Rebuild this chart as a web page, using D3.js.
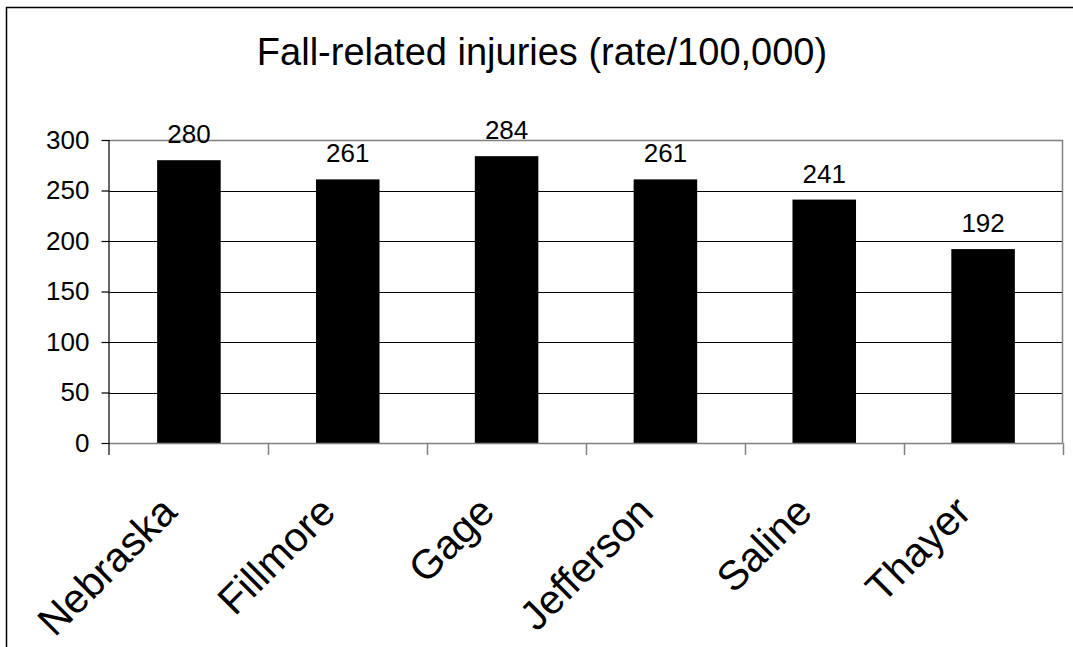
<!DOCTYPE html>
<html>
<head>
<meta charset="utf-8">
<script src="https://cdn.jsdelivr.net/npm/d3@7"></script>
<style>
html, body { margin: 0; background: #fff; overflow: hidden; }
svg { display: block; }
text { font-family: "Liberation Sans", Arial, sans-serif; fill: #000; }
</style>
</head>
<body>
<script>
// chart data
const counties = ["Nebraska", "Fillmore", "Gage", "Jefferson", "Saline", "Thayer"];
const rates = [280, 261, 284, 261, 241, 192];
const yTicks = [0, 50, 100, 150, 200, 250, 300];
const chartTitle = "Fall-related injuries (rate/100,000)";

const W = 1073, H = 647;
const plot = { left: 109.5, right: 1062.5, top: 140, bottom: 443 };

const svg = d3.select("body").append("svg")
  .attr("width", W).attr("height", H);

// outer chart border (only left/top edges fall inside the window)
svg.append("path")
  .attr("d", `M6.5,${H}V7.5H${W}`)
  .attr("fill", "none").attr("stroke", "#000").attr("stroke-width", 1.5);

const x = d3.scaleBand().domain(counties)
  .range([plot.left, plot.right]).paddingInner(0.6).paddingOuter(0.3);
const xCat = d3.scaleBand().domain(counties).range([plot.left, plot.right]);
const y = d3.scaleLinear().domain([0, 300]).range([plot.bottom, plot.top]);

// gridlines
svg.append("g").selectAll("line").data(yTicks.filter(d => d > 0 && d < 300)).join("line")
  .attr("x1", plot.left).attr("x2", plot.right)
  .attr("y1", d => Math.round(y(d)) + 0.5).attr("y2", d => Math.round(y(d)) + 0.5)
  .attr("stroke", "#000").attr("stroke-width", 1);

// plot area border (top/right gray)
svg.append("path")
  .attr("d", `M${plot.left},${plot.top + 0.5}H${plot.right}V${plot.bottom}`)
  .attr("fill", "none").attr("stroke", "#808080").attr("stroke-width", 1.5);

// bars
svg.append("g").selectAll("rect").data(rates).join("rect")
  .attr("x", (d, i) => x(counties[i]))
  .attr("width", x.bandwidth())
  .attr("y", d => y(d))
  .attr("height", d => y(0) - y(d))
  .attr("fill", "#000");

// value labels
svg.append("g").selectAll("text").data(rates).join("text")
  .attr("x", (d, i) => x(counties[i]) + x.bandwidth() / 2)
  .attr("y", d => y(d) - 17)
  .attr("text-anchor", "middle")
  .attr("font-size", 26)
  .text(d => d);

// x axis line + category ticks
svg.append("line")
  .attr("x1", plot.left).attr("x2", plot.right)
  .attr("y1", plot.bottom + 0.5).attr("y2", plot.bottom + 0.5)
  .attr("stroke", "#808080").attr("stroke-width", 1.5);
const catEdges = counties.map(c => xCat(c)).concat([plot.right]);
svg.append("g").selectAll("line").data(catEdges.slice(1)).join("line")
  .attr("x1", d => Math.round(d) + 0.5).attr("x2", d => Math.round(d) + 0.5)
  .attr("y1", plot.bottom).attr("y2", plot.bottom + 12)
  .attr("stroke", "#808080").attr("stroke-width", 1.5);

// y axis
const yAxis = svg.append("g")
  .attr("transform", `translate(${plot.left},0)`)
  .call(d3.axisLeft(y).tickValues(yTicks).tickSize(8).tickPadding(12));
yAxis.select(".domain").attr("d", `M-0.5,${plot.top}V${plot.bottom + 12}`)
  .attr("stroke", "#000").attr("stroke-width", 1.2);
yAxis.selectAll(".tick line").attr("stroke", "#000").attr("stroke-width", 1.2);
yAxis.selectAll(".tick text")
  .attr("font-size", 26)
  .style("font-family", "'Liberation Sans', Arial, sans-serif")
  .attr("fill", "#000");

// category labels, rotated
svg.append("g").selectAll("text").data(counties).join("text")
  .attr("transform", d => `translate(${xCat(d) + xCat.bandwidth() / 2 - 10},514) rotate(-45)`)
  .attr("text-anchor", "end")
  .attr("font-size", 41)
  .text(d => d);

// title
svg.append("text")
  .attr("x", 542).attr("y", 65)
  .attr("text-anchor", "middle")
  .attr("font-size", 38)
  .text(chartTitle);
</script>
</body>
</html>
